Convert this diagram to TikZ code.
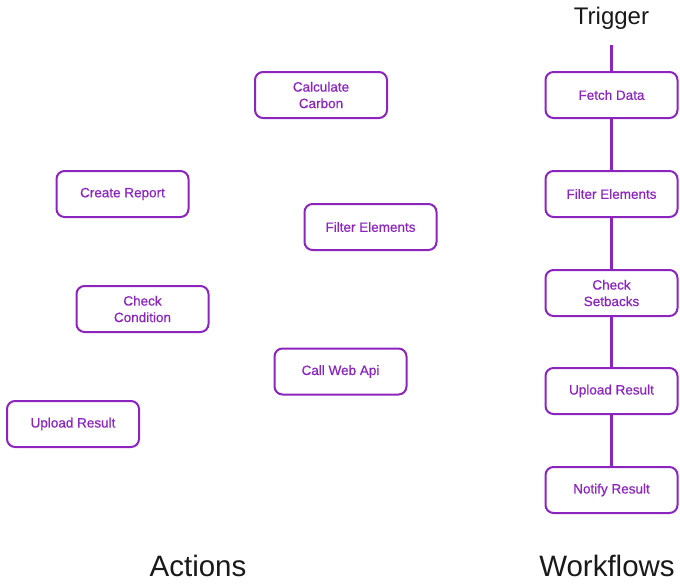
\documentclass[tikz,border=0pt]{standalone}
\usepackage{fontspec}
\setmainfont{Liberation Sans}
\definecolor{pur}{RGB}{140,36,190}
\begin{document}
\begin{tikzpicture}[x=1pt,y=-1pt,
  act/.style={draw=pur,line width=2pt,rounded corners=8pt,minimum width=132pt,minimum height=46pt,align=center,text=pur,font=\fontsize{13.5}{16.5}\selectfont\addfontfeature{FakeBold=0.6},inner sep=0pt},
  link/.style={draw=pur,line width=2.2pt},
  title/.style={font=\fontsize{29.5}{34}\selectfont,text=black!90}]
\useasboundingbox (0,0) rectangle (680,584);
\node[act] (cc) at (321,95) {Calculate\\Carbon};
\node[act] (cr) at (122.5,194) {Create Report};
\node[act] (fe) at (370.5,227) {Filter Elements};
\node[act] (ck) at (142.5,309) {Check\\Condition};
\node[act] (cw) at (340.5,371.5) {Call Web Api};
\node[act] (ul) at (73,424) {Upload Result};
\node[font=\fontsize{24}{28}\selectfont,text=black!90] (tr) at (611.5,18) {Trigger};
\coordinate (trb) at (611.5,45);
\node[act] (w1) at (611.5,95) {Fetch Data};
\node[act] (w2) at (611.5,194) {Filter Elements};
\node[act] (w3) at (611.5,293) {Check\\Setbacks};
\node[act] (w4) at (611.5,391) {Upload Result};
\node[act] (w5) at (611.5,490) {Notify Result};
\draw[link] (trb) -- (w1.north);
\draw[link] (w1) -- (w2);
\draw[link] (w2) -- (w3);
\draw[link] (w3) -- (w4);
\draw[link] (w4) -- (w5);
\node[title] (ta) at (198,566) {Actions};
\node[title] (tw) at (607,566) {Workflows};
\end{tikzpicture}
\end{document}
